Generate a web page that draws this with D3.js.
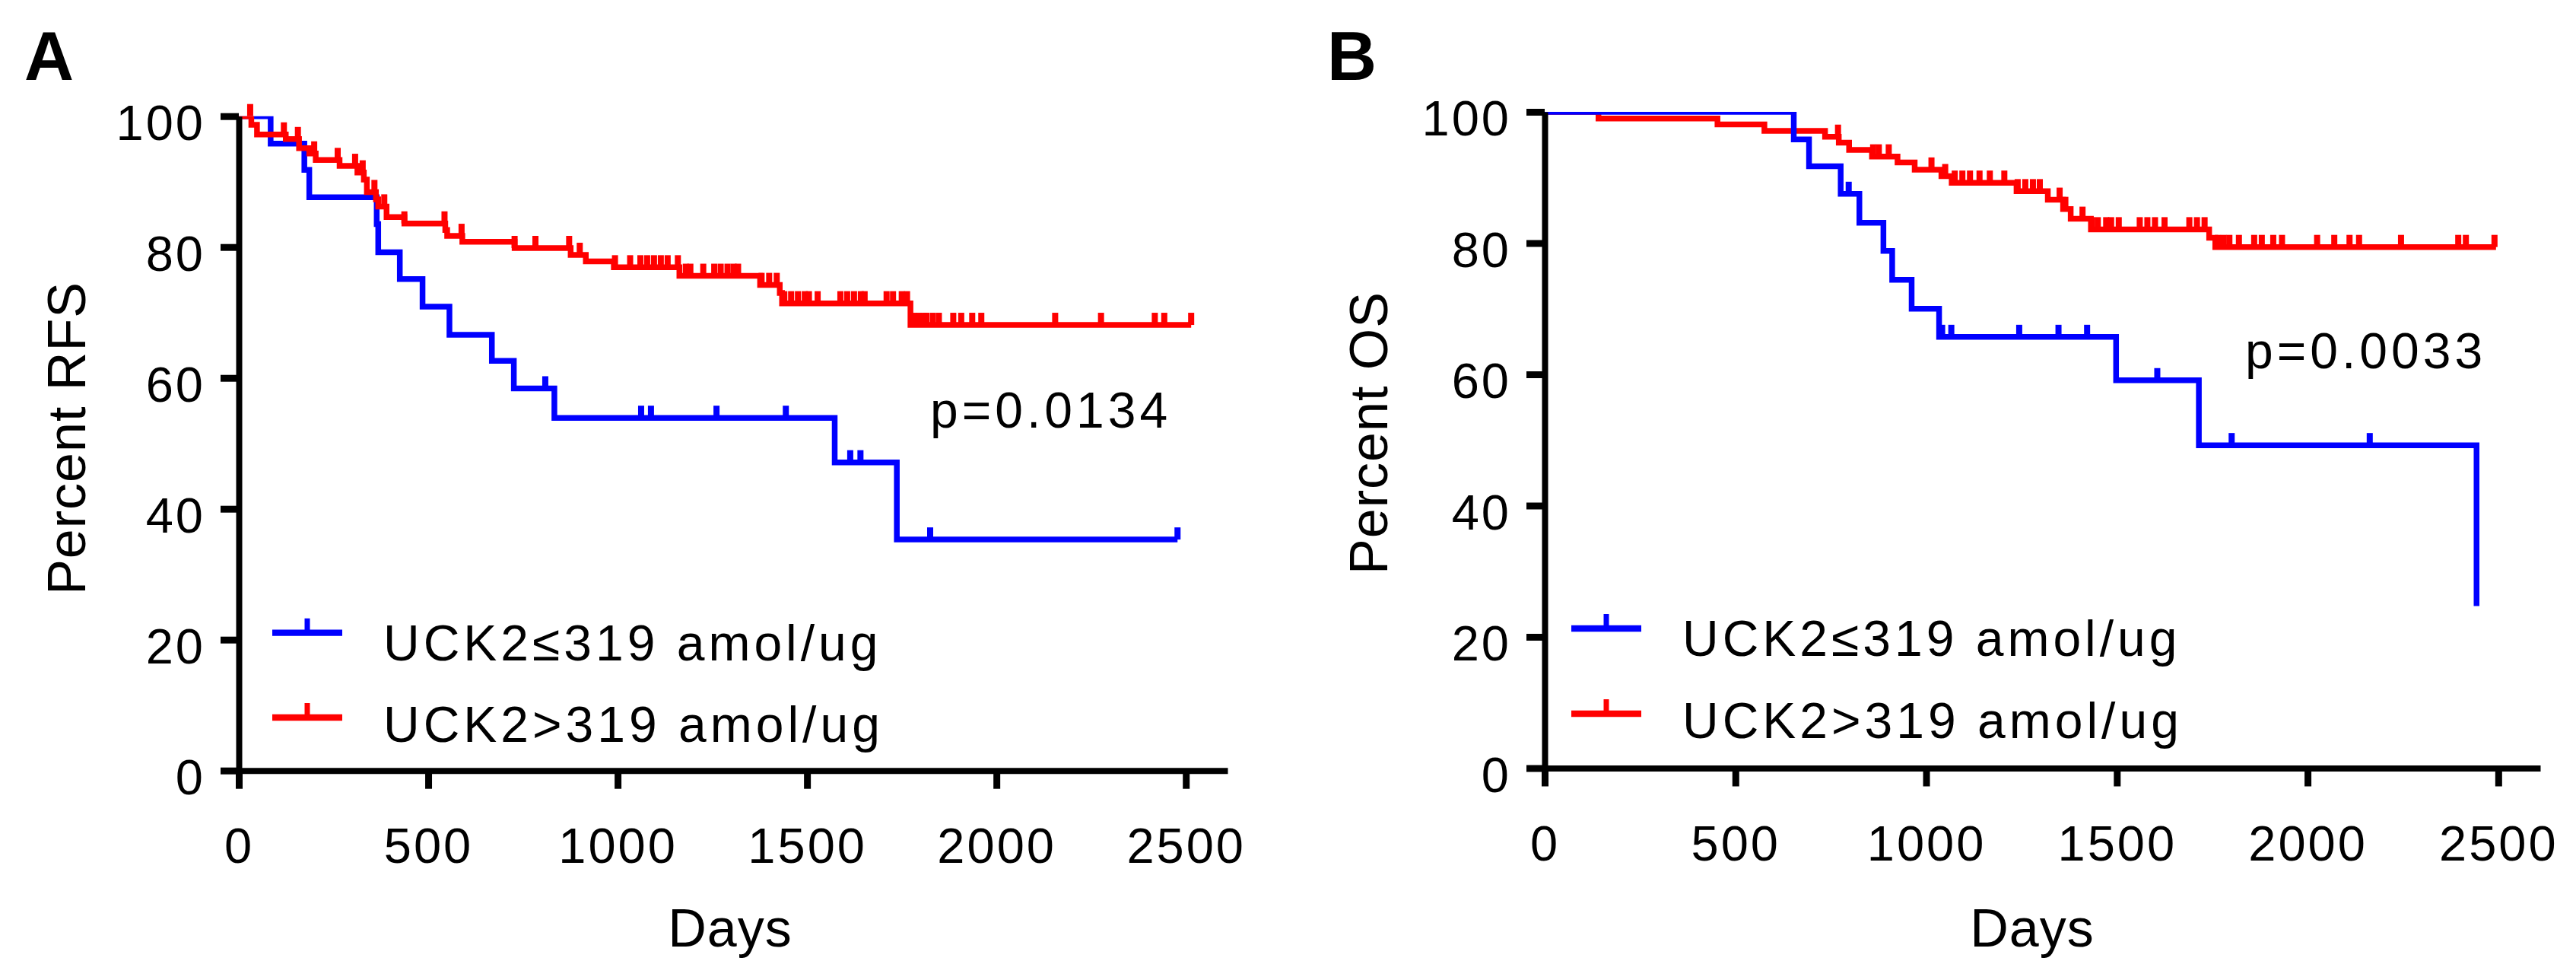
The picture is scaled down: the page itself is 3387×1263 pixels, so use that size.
<!DOCTYPE html>
<html>
<head>
<meta charset="utf-8">
<script src="https://cdn.jsdelivr.net/npm/d3@7"></script>
<style>
body { margin: 0; background: #fff; }
svg { display: block; }
</style>
</head>
<body>
<svg width="3387" height="1263"></svg>
<script>
const dayTicks = [0, 500, 1000, 1500, 2000, 2500]
const percentTicks = [0, 20, 40, 60, 80, 100]
const dayMax = 2610

const groupNames = ['UCK2\u2264319 amol/ug', 'UCK2>319 amol/ug']
const groupColors = ['#0000ff', '#ff0000']

// A: relapse free survival, [day, percent after the drop]
const rfsLowSteps = [[84, 95.8], [173, 91.8], [186, 87.6], [364, 83.5], [368, 79.2], [425, 75.1], [485, 70.9],
	[556, 66.6], [668, 62.6], [726, 58.4], [833, 53.9], [1573, 47.1], [1737, 35.3]]
const rfsLowCensored = [809, 1062, 1088, 1261, 1444, 1614, 1641, 1825, 2478]
const rfsLowEnd = 2478

const rfsHighSteps = [[33, 98.7], [48, 97.2], [124, 96.5], [159, 95.1], [186, 94.3], [203, 93.3], [266, 92.4],
	[313, 91.4], [330, 90.3], [338, 88.4], [362, 87.3], [368, 86.2], [390, 84.6], [437, 83.6], [545, 82.6],
	[550, 81.7], [590, 80.8], [728, 79.85], [876, 78.8], [916, 77.8], [990, 76.9], [1163, 75.6], [1376, 74.2],
	[1428, 73.0], [1434, 71.4], [1773, 68.1]]
const rfsHighCensored = [30, 119, 156, 199, 261, 307, 327, 358, 384, 437, 543, 588, 728, 783, 872, 900, 993, 1033,
	1060, 1078, 1096, 1114, 1132, 1159, 1180, 1192, 1226, 1255, 1272, 1290, 1306, 1318, 1380, 1400, 1420, 1440,
	1458, 1476, 1494, 1505, 1528, 1588, 1606, 1624, 1642, 1652, 1710, 1727, 1750, 1764, 1783, 1795, 1808, 1815,
	1832, 1848, 1886, 1907, 1936, 1960, 2155, 2276, 2418, 2443, 2514]
const rfsHighEnd = 2514

// B: overall survival
const osLowSteps = [[653, 95.8], [693, 91.7], [776, 87.5], [825, 83.1], [888, 78.8], [911, 74.4], [962, 70.0],
	[1034, 65.7], [1498, 59.1], [1715, 49.2], [2443, 24.7]]
const osLowCensored = [797, 1042, 1066, 1244, 1347, 1422, 1606, 1801, 2163]
const osLowEnd = 2443

const osHighSteps = [[141, 99.0], [453, 98.1], [576, 97.1], [735, 96.2], [771, 95.3], [798, 94.2], [858, 93.2],
	[925, 92.3], [970, 91.2], [1040, 90.2], [1067, 89.2], [1237, 87.9], [1319, 86.6], [1359, 85.2], [1379, 83.7],
	[1432, 82.1], [1742, 80.8], [1758, 79.4]]
const osHighCensored = [769, 861, 876, 902, 1014, 1050, 1075, 1095, 1115, 1140, 1167, 1205, 1240, 1260, 1280, 1298,
	1350, 1365, 1410, 1435, 1450, 1472, 1485, 1505, 1560, 1580, 1600, 1625, 1690, 1710, 1730, 1765, 1780, 1795,
	1820, 1860, 1880, 1910, 1933, 2025, 2070, 2110, 2135, 2245, 2395, 2415, 2490]
const osHighEnd = 2494

const font = "'Liberation Sans', Arial, sans-serif"

const panels = [
	{
		id: 'A', left: 314, right: 1614, top: 152.7, bottom: 1012.7,
		yTitle: 'Percent RFS', titleX: 112, titleY: 576, daysX: 960, daysY: 1244,
		pText: 'p=0.0134', pX: 1223, pY: 562, letterX: 32,
		legX: 358, legY: [831.7, 943], legTextX: 504, legTextY: [868, 975],
		curves: [
			{ steps: rfsLowSteps, censored: rfsLowCensored, end: rfsLowEnd, group: 0 },
			{ steps: rfsHighSteps, censored: rfsHighCensored, end: rfsHighEnd, group: 1 }
		]
	},
	{
		id: 'B', left: 2031, right: 3340, top: 147, bottom: 1009.5,
		yTitle: 'Percent OS', titleX: 1824, titleY: 569, daysX: 2672, daysY: 1244,
		pText: 'p=0.0033', pX: 2952, pY: 484, letterX: 1745,
		legX: 2066, legY: [826, 938], legTextX: 2212, legTextY: [862, 970],
		curves: [
			{ steps: osHighSteps, censored: osHighCensored, end: osHighEnd, group: 1 },
			{ steps: osLowSteps, censored: osLowCensored, end: osLowEnd, group: 0 }
		]
	}
]

function survivalAt(steps, t) {
	let v = 100
	steps.forEach(s => {
		if (s[0] <= t) v = s[1]
	})
	return v
}

function drawPanel(p) {
	let svg = d3.select('svg')
	let g = svg.append('g').attr('id', 'panel-' + p.id)

	let xScale = d3.scaleLinear().domain([0, dayMax]).range([p.left, p.right])
	let yScale = d3.scaleLinear().domain([0, 100]).range([p.bottom, p.top])

	// curves, clipped at 100 like the original
	g.append('clipPath')
		.attr('id', 'clip-' + p.id)
		.append('rect')
		.attr('x', p.left)
		.attr('y', p.top)
		.attr('width', p.right - p.left + 20)
		.attr('height', p.bottom - p.top)

	let line = d3.line()
		.x(d => xScale(d[0]))
		.y(d => yScale(d[1]))
		.curve(d3.curveStepAfter)

	p.curves.forEach(c => {
		let pts = [[0, 100]].concat(c.steps)
		let last = c.steps[c.steps.length - 1]
		if (c.end > last[0]) pts.push([c.end, last[1]])

		g.append('path')
			.datum(pts)
			.attr('d', line)
			.attr('clip-path', `url(#clip-${p.id})`)
			.attr('fill', 'none')
			.attr('stroke', groupColors[c.group])
			.attr('stroke-width', 7.5)
			.attr('stroke-linejoin', 'miter')

		g.append('g')
			.selectAll('line')
			.data(c.censored)
			.enter()
			.append('line')
			.attr('x1', d => xScale(d))
			.attr('x2', d => xScale(d))
			.attr('y1', d => yScale(survivalAt(c.steps, d)))
			.attr('y2', d => yScale(survivalAt(c.steps, d)) - 16)
			.attr('stroke', groupColors[c.group])
			.attr('stroke-width', 8)
	})

	// axes
	let bottomAxisG = g.append('g')
		.attr('transform', `translate(0, ${p.bottom})`)
		.call(d3.axisBottom(xScale).tickValues(dayTicks).tickFormat(d3.format('d'))
			.tickSize(24).tickSizeOuter(0).tickPadding(51))
	let leftAxisG = g.append('g')
		.attr('transform', `translate(${p.left}, 0)`)
		.call(d3.axisLeft(yScale).tickValues(percentTicks).tickFormat(d3.format('d'))
			.tickSize(24).tickSizeOuter(0).tickPadding(20))

	;[bottomAxisG, leftAxisG].forEach(a => {
		a.attr('font-family', font).attr('font-size', 65)
		a.select('.domain').attr('stroke', '#000').attr('stroke-width', 8)
		a.selectAll('.tick line').attr('stroke', '#000').attr('stroke-width', 9)
		a.selectAll('.tick text').attr('fill', '#000').attr('letter-spacing', 3)
	})
	leftAxisG.selectAll('.tick text').attr('dy', '0.47em')

	// titles
	g.append('text')
		.attr('transform', `translate(${p.titleX}, ${p.titleY}) rotate(-90)`)
		.attr('text-anchor', 'middle')
		.attr('font-family', font)
		.attr('font-size', 70)
		.attr('letter-spacing', 1)
		.text(p.yTitle)

	g.append('text')
		.attr('x', p.daysX)
		.attr('y', p.daysY)
		.attr('text-anchor', 'middle')
		.attr('font-family', font)
		.attr('font-size', 70)
		.attr('letter-spacing', 1)
		.text('Days')

	g.append('text')
		.attr('x', p.letterX)
		.attr('y', 105)
		.attr('font-family', font)
		.attr('font-weight', 'bold')
		.attr('font-size', 90)
		.text(p.id)

	g.append('text')
		.attr('x', p.pX)
		.attr('y', p.pY)
		.attr('font-family', font)
		.attr('font-size', 66)
		.attr('letter-spacing', 5)
		.text(p.pText)

	// legend
	groupNames.forEach((name, i) => {
		let ly = p.legY[i]
		g.append('line')
			.attr('x1', p.legX).attr('x2', p.legX + 92)
			.attr('y1', ly).attr('y2', ly)
			.attr('stroke', groupColors[i])
			.attr('stroke-width', 8.3)
		g.append('line')
			.attr('x1', p.legX + 46).attr('x2', p.legX + 46)
			.attr('y1', ly).attr('y2', ly - 19)
			.attr('stroke', groupColors[i])
			.attr('stroke-width', 7)
		g.append('text')
			.attr('x', p.legTextX)
			.attr('y', p.legTextY[i])
			.attr('font-family', font)
			.attr('font-size', 66)
			.attr('letter-spacing', 5)
			.text(name)
	})
}

panels.forEach(drawPanel)
</script>
</body>
</html>
